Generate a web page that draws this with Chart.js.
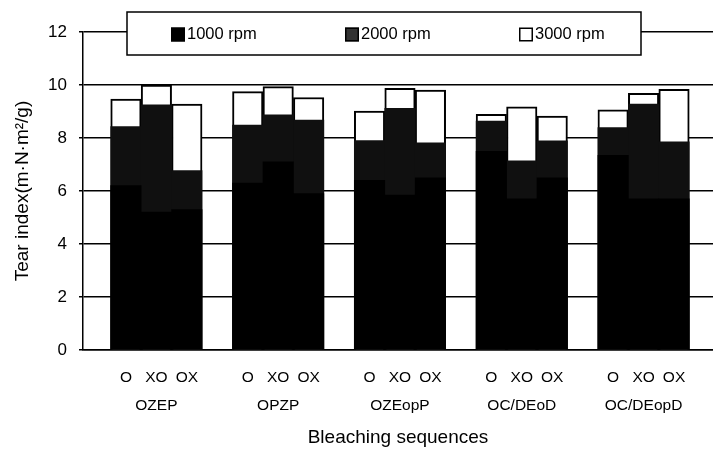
<!DOCTYPE html>
<html>
<head>
<meta charset="utf-8">
<script src="https://cdn.jsdelivr.net/npm/chart.js@4/dist/chart.umd.min.js"></script>
<style>
  html, body { margin: 0; padding: 0; background: #fff; }
  #wrap { width: 713px; height: 450px; }
</style>
</head>
<body>
<div id="wrap"><canvas id="tearChart" width="713" height="450"></canvas></div>
<script>
const sequences = ['OZEP', 'OPZP', 'OZEopP', 'OC/DEoD', 'OC/DEopD'];
const treatments = ['O', 'XO', 'OX'];
const seriesLabels = ['1000 rpm', '2000 rpm', '3000 rpm'];

// tear index per bar, order: OZEP O/XO/OX, OPZP O/XO/OX, ...
const rpm1000 = [6.2, 5.2, 5.3, 6.3, 7.1, 5.9, 6.4, 5.85, 6.5, 7.5, 5.7, 6.5, 7.35, 5.7, 5.7];
const rpm2000 = [8.43, 9.25, 6.77, 8.49, 8.87, 8.68, 7.9, 9.12, 7.82, 8.64, 7.14, 7.89, 8.39, 9.28, 7.86];
const rpm3000 = [9.47, 10.0, 9.28, 9.75, 9.94, 9.53, 9.02, 9.87, 9.81, 8.89, 9.18, 8.83, 9.06, 9.69, 9.84];

const yMin = 0, yMax = 12, yStep = 2;

const FONT = "'Liberation Sans', Arial, sans-serif";

// one slot per bar, one empty slot between sequences
const slotOf = i => Math.floor(i / 3) * 4 + (i % 3) + 1;
const toPoints = arr => arr.map((v, i) => ({ x: slotOf(i), y: v }));
const tickSlots = rpm1000.map((_, i) => slotOf(i));

const legendBox = {
  id: 'legendBox',
  afterDraw(chart) {
    const ctx = chart.ctx;
    const left = 127, top = 12, right = 641, bottom = 55;
    const midY = (top + bottom) / 2 + 1;
    ctx.save();
    ctx.fillStyle = '#fff';
    ctx.fillRect(left, top, right - left, bottom - top);
    ctx.strokeStyle = '#000';
    ctx.lineWidth = 1.5;
    ctx.strokeRect(left, top, right - left, bottom - top);
    ctx.font = '16.5px ' + FONT;
    ctx.textBaseline = 'middle';
    chart.data.datasets.forEach((ds, i) => {
      const x = left + 44 + i * 174;
      ctx.fillStyle = i === 1 ? '#333' : ds.backgroundColor;
      ctx.fillRect(x, midY - 7, 14, 14);
      ctx.lineWidth = 1.5;
      ctx.strokeRect(x + 0.75, midY - 6.25, 12.5, 12.5);
      ctx.fillStyle = '#000';
      ctx.fillText(ds.label, x + 16, midY);
    });
    ctx.restore();
  }
};

new Chart(document.getElementById('tearChart'), {
  type: 'bar',
  data: {
    datasets: [
      {
        label: seriesLabels[0],
        data: toPoints(rpm1000),
        backgroundColor: '#000000',
        borderWidth: 0,
        grouped: false
      },
      {
        label: seriesLabels[1],
        data: toPoints(rpm2000),
        backgroundColor: '#101010',
        borderWidth: 0,
        grouped: false
      },
      {
        label: seriesLabels[2],
        data: toPoints(rpm3000),
        backgroundColor: '#ffffff',
        borderColor: '#000000',
        borderWidth: 2,
        grouped: false
      }
    ]
  },
  options: {
    responsive: false,
    animation: false,
    categoryPercentage: 1,
    barPercentage: 1,
    layout: { padding: { left: 0, top: 32, right: 0, bottom: 0 } },
    plugins: {
      legend: { display: false },
      tooltip: { enabled: false }
    },
    scales: {
      x: {
        type: 'linear',
        offset: false,
        min: -0.41,
        max: 20.28,
        afterFit: axis => { axis.height = 100; },
        grid: { display: false, drawTicks: false, offset: false },
        border: { display: true, color: '#000', width: 1.5 },
        afterBuildTicks: axis => { axis.ticks = tickSlots.map(v => ({ value: v })); },
        ticks: {
          autoSkip: false,
          maxRotation: 0,
          padding: 14,
          color: '#000',
          font: { family: FONT, size: 15.5, lineHeight: 1.8 },
          callback: (v, i) => i % 3 === 1
            ? [treatments[1], sequences[Math.floor(i / 3)]]
            : treatments[i % 3]
        },
        title: {
          display: true,
          text: 'Bleaching sequences',
          color: '#000',
          font: { family: FONT, size: 19 },
          padding: { top: 4, bottom: 1 }
        }
      },
      y: {
        min: yMin,
        max: yMax,
        afterFit: axis => { axis.width = 83; },
        ticks: {
          stepSize: yStep,
          padding: 12,
          color: '#000',
          font: { family: FONT, size: 17 }
        },
        grid: { color: '#000', lineWidth: 1.5, tickLength: 4 },
        border: { color: '#000', width: 1.5 },
        title: {
          display: true,
          text: 'Tear index(m\u00b7N\u00b7m\u00b2/g)',
          color: '#000',
          font: { family: FONT, size: 19 },
          padding: { top: 11, bottom: 10 }
        }
      }
    }
  },
  plugins: [legendBox]
});
</script>
</body>
</html>
